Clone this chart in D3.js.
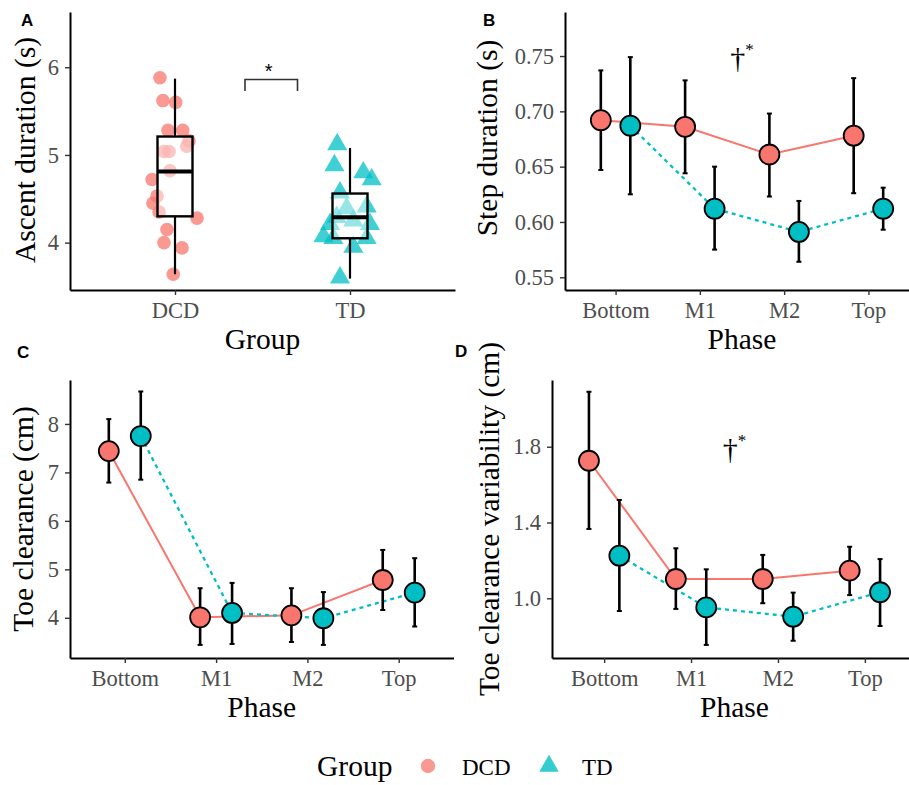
<!DOCTYPE html>
<html>
<head>
<meta charset="utf-8">
<script src="https://cdn.jsdelivr.net/npm/d3@7"></script>
<style>
  body { margin: 0; background: #fff; }
  svg text { font-family: "Liberation Serif", "Times New Roman", serif; }
  svg text.sans { font-family: "Liberation Sans", Arial, sans-serif; }
</style>
</head>
<body>
<div id="d3-container"></div>
<script>
/* CONSTANTS AND GLOBALS */
const width = 909,
  height = 785,
  red = "#F8766D",
  teal = "#00BFC4";

/* DATA */
const groups = ["DCD", "TD"];
const phases = ["Bottom", "M1", "M2", "Top"];

// A: ascent duration (s), one value per child, jitter in category units
const ascentDCD = [5.88, 5.62, 5.60, 5.28, 5.28, 5.16, 5.10, 5.04, 5.04, 4.82, 4.72, 4.53, 4.45, 4.35, 4.28, 4.15, 4.00, 3.94, 3.64];
const jitterDCD = [-0.086, -0.069, 0.004, -0.040, 0.044, 0.080, 0.067, -0.063, -0.034, -0.029, -0.131, -0.103, -0.126, -0.091, 0.126, -0.046, -0.063, 0.040, -0.010];
const ascentTD = [5.12, 4.88, 4.80, 4.72, 4.57, 4.41, 4.39, 4.29, 4.25, 4.21, 4.21, 4.07, 4.05, 4.05, 3.95, 3.60];
const jitterTD = [-0.073, -0.089, 0.076, 0.124, -0.057, 0.095, -0.019, -0.076, 0.019, -0.114, 0.114, -0.152, -0.095, 0.095, 0.019, -0.057];
const boxQ1 = [4.30, 4.05];
const boxMedian = [4.81, 4.29];
const boxQ3 = [5.21, 4.56];
const whiskerLow = [3.64, 3.59];
const whiskerHigh = [5.87, 5.08];

// B: step duration (s)
const stepMeanDCD = [0.692, 0.686, 0.661, 0.678];
const stepLowDCD = [0.647, 0.644, 0.623, 0.626];
const stepHighDCD = [0.737, 0.728, 0.698, 0.730];
const stepMeanTD = [0.687, 0.612, 0.591, 0.612];
const stepLowTD = [0.625, 0.575, 0.564, 0.593];
const stepHighTD = [0.749, 0.650, 0.619, 0.631];

// C: toe clearance (cm)
const toeMeanDCD = [7.44, 4.01, 4.05, 4.78];
const toeLowDCD = [6.79, 3.44, 3.50, 4.16];
const toeHighDCD = [8.10, 4.61, 4.61, 5.40];
const toeMeanTD = [7.75, 4.10, 3.99, 4.52];
const toeLowTD = [6.85, 3.46, 3.44, 3.82];
const toeHighTD = [8.67, 4.72, 4.53, 5.23];

// D: toe clearance variability (cm)
const varMeanDCD = [1.726, 1.102, 1.102, 1.146];
const varLowDCD = [1.366, 0.944, 0.974, 1.017];
const varHighDCD = [2.090, 1.264, 1.229, 1.272];
const varMeanTD = [1.225, 0.952, 0.903, 1.032];
const varLowTD = [0.933, 0.754, 0.776, 0.854];
const varHighTD = [1.519, 1.153, 1.030, 1.207];

/* SVG */
const svg = d3.select("#d3-container")
  .append("svg")
  .attr("width", width)
  .attr("height", height)
  .style("background", "#fff");

// ggplot-ish axis look
function styleAxis(sel) {
  sel.attr("font-family", null).attr("font-size", 22.5);
  sel.select(".domain").attr("stroke", "#000").attr("stroke-width", 2);
  sel.selectAll(".tick line").attr("stroke", "#333").attr("stroke-width", 1.4);
  sel.selectAll(".tick text").attr("fill", "#4D4D4D");
}

function yTitle(x, y, label) {
  svg.append("text")
    .attr("transform", `translate(${x},${y}) rotate(-90)`)
    .attr("text-anchor", "middle")
    .attr("font-size", 29.5)
    .attr("fill", "#000")
    .text(label);
}

function xTitle(x, y, label) {
  svg.append("text")
    .attr("x", x)
    .attr("y", y)
    .attr("text-anchor", "middle")
    .attr("font-size", 29.5)
    .attr("fill", "#000")
    .text(label);
}

function panelLetter(x, y, letter) {
  svg.append("text")
    .attr("class", "sans")
    .attr("x", x)
    .attr("y", y)
    .attr("font-weight", "bold")
    .attr("font-size", 17)
    .text(letter);
}

/* PANEL A: BOXPLOT + JITTER */
function drawAscent() {
  const left = 70, right = 455, top = 12, bottom = 290;
  const x = d3.scaleLinear().domain([0.4, 2.6]).range([left, right]);
  const y = d3.scaleLinear().domain([3.46, 6.63]).range([bottom, top]);

  svg.append("g")
    .attr("transform", `translate(0,${bottom})`)
    .call(d3.axisBottom(x).tickValues([1, 2]).tickFormat(i => groups[i - 1])
      .tickSize(5).tickSizeOuter(0).tickPadding(7))
    .call(styleAxis);
  svg.append("g")
    .attr("transform", `translate(${left},0)`)
    .call(d3.axisLeft(y).tickValues([4, 5, 6]).tickFormat(d3.format("d"))
      .tickSize(5).tickSizeOuter(0).tickPadding(6))
    .call(styleAxis);

  // jittered points
  svg.append("g").selectAll("circle")
    .data(ascentDCD.map((v, i) => ({ v, j: jitterDCD[i] })))
    .join("circle")
    .attr("cx", d => x(1 + d.j))
    .attr("cy", d => y(d.v))
    .attr("r", 6.8)
    .attr("fill", red)
    .attr("fill-opacity", 0.75);

  svg.append("g").selectAll("path")
    .data(ascentTD.map((v, i) => ({ v, j: jitterTD[i] })))
    .join("path")
    .attr("d", d3.symbol(d3.symbolTriangle, 175))
    .attr("transform", d => `translate(${x(2 + d.j)},${y(d.v)})`)
    .attr("fill", teal)
    .attr("fill-opacity", 0.75);

  // boxes
  const boxes = groups.map((g, i) => ({
    pos: i + 1, q1: boxQ1[i], med: boxMedian[i], q3: boxQ3[i], lo: whiskerLow[i], hi: whiskerHigh[i]
  }));
  const bg = svg.append("g").selectAll("g").data(boxes).join("g");
  bg.append("line")
    .attr("x1", d => x(d.pos)).attr("x2", d => x(d.pos))
    .attr("y1", d => y(d.hi)).attr("y2", d => y(d.q3))
    .attr("stroke", "#000").attr("stroke-width", 2.2);
  bg.append("line")
    .attr("x1", d => x(d.pos)).attr("x2", d => x(d.pos))
    .attr("y1", d => y(d.q1)).attr("y2", d => y(d.lo))
    .attr("stroke", "#000").attr("stroke-width", 2.2);
  bg.append("rect")
    .attr("x", d => x(d.pos - 0.1))
    .attr("width", d => x(d.pos + 0.1) - x(d.pos - 0.1))
    .attr("y", d => y(d.q3))
    .attr("height", d => y(d.q1) - y(d.q3))
    .attr("fill", "#fff").attr("fill-opacity", 0.45)
    .attr("stroke", "#000").attr("stroke-width", 2.4);
  bg.append("line")
    .attr("x1", d => x(d.pos - 0.1)).attr("x2", d => x(d.pos + 0.1))
    .attr("y1", d => y(d.med)).attr("y2", d => y(d.med))
    .attr("stroke", "#000").attr("stroke-width", 4);

  // significance bracket
  svg.append("path")
    .attr("d", d3.line()([[x(1.4), y(5.73)], [x(1.4), y(5.86)], [x(1.7), y(5.86)], [x(1.7), y(5.73)]]))
    .attr("fill", "none").attr("stroke", "#333").attr("stroke-width", 1.6);
  svg.append("text")
    .attr("class", "sans")
    .attr("x", x(1.535)).attr("y", y(5.98) + 9)
    .attr("text-anchor", "middle")
    .attr("font-size", 20)
    .text("*");

  yTitle(34.5, 150, "Ascent duration (s)");
  xTitle((left + right) / 2, 349, "Group");
}

/* PANELS B, C, D: MEAN + ERROR BAR BY PHASE */
function drawPhasePanel(o) {
  const x = d3.scaleLinear().domain([0.4, 4.6]).range([o.left, o.right]);
  const y = d3.scaleLinear().domain(o.yDomain).range([o.bottom, o.top]);

  svg.append("g")
    .attr("transform", `translate(0,${o.bottom})`)
    .call(d3.axisBottom(x).tickValues([1, 2, 3, 4]).tickFormat(i => phases[i - 1])
      .tickSize(5).tickSizeOuter(0).tickPadding(7))
    .call(styleAxis);
  svg.append("g")
    .attr("transform", `translate(${o.left},0)`)
    .call(d3.axisLeft(y).tickValues(o.yTicks).tickFormat(o.fmt)
      .tickSize(5).tickSizeOuter(0).tickPadding(6))
    .call(styleAxis);

  const series = [
    { mean: o.dcd[0], lo: o.dcd[1], hi: o.dcd[2], color: red, dodge: -0.175, dash: null, width: 2 },
    { mean: o.td[0], lo: o.td[1], hi: o.td[2], color: teal, dodge: 0.175, dash: "4,4", width: 2.3 }
  ];

  // lines
  series.forEach(s => {
    svg.append("path")
      .datum(s.mean)
      .attr("d", d3.line().x((d, i) => x(i + 1 + s.dodge)).y(d => y(d)))
      .attr("fill", "none")
      .attr("stroke", s.color)
      .attr("stroke-width", s.width)
      .attr("stroke-dasharray", s.dash);
  });

  // error bars
  series.forEach(s => {
    const eb = svg.append("g").selectAll("g")
      .data(s.mean.map((m, i) => ({ pos: i + 1 + s.dodge, lo: s.lo[i], hi: s.hi[i] })))
      .join("g")
      .attr("stroke", "#000");
    eb.append("line")
      .attr("x1", d => x(d.pos)).attr("x2", d => x(d.pos))
      .attr("y1", d => y(d.lo)).attr("y2", d => y(d.hi))
      .attr("stroke-width", 2.6);
    eb.append("line")
      .attr("x1", d => x(d.pos) - 2.5).attr("x2", d => x(d.pos) + 2.5)
      .attr("y1", d => y(d.lo)).attr("y2", d => y(d.lo))
      .attr("stroke-width", 2);
    eb.append("line")
      .attr("x1", d => x(d.pos) - 2.5).attr("x2", d => x(d.pos) + 2.5)
      .attr("y1", d => y(d.hi)).attr("y2", d => y(d.hi))
      .attr("stroke-width", 2);
  });

  // points
  series.forEach(s => {
    svg.append("g").selectAll("circle")
      .data(s.mean)
      .join("circle")
      .attr("cx", (d, i) => x(i + 1 + s.dodge))
      .attr("cy", d => y(d))
      .attr("r", 10)
      .attr("fill", s.color)
      .attr("stroke", "#000")
      .attr("stroke-width", 1.8);
  });

  // interaction annotation
  if (o.dagger) {
    const t = svg.append("text")
      .attr("x", x(2.5))
      .attr("y", y(o.dagger) + 10)
      .attr("text-anchor", "middle")
      .attr("fill", "#000");
    t.append("tspan").attr("font-size", 30).text("\u2020");
    t.append("tspan").attr("font-size", 17).attr("dy", -13).text("*");
  }

  yTitle(o.titleX, o.titleY, o.yLabel);
  xTitle((o.left + o.right) / 2, o.bottom + 59, "Phase");
}

drawAscent();

drawPhasePanel({
  left: 565, right: 919, top: 12, bottom: 290,
  yDomain: [0.5385, 0.7898], yTicks: [0.55, 0.60, 0.65, 0.70, 0.75], fmt: d3.format(".2f"),
  dcd: [stepMeanDCD, stepLowDCD, stepHighDCD],
  td: [stepMeanTD, stepLowTD, stepHighTD],
  dagger: 0.7485,
  yLabel: "Step duration (s)", titleX: 497, titleY: 138
});

drawPhasePanel({
  left: 70, right: 453.5, top: 380, bottom: 658,
  yDomain: [3.17, 8.907], yTicks: [4, 5, 6, 7, 8], fmt: d3.format("d"),
  dcd: [toeMeanDCD, toeLowDCD, toeHighDCD],
  td: [toeMeanTD, toeLowTD, toeHighTD],
  dagger: null,
  yLabel: "Toe clearance (cm)", titleX: 33, titleY: 519
});

drawPhasePanel({
  left: 552, right: 917, top: 380, bottom: 658,
  yDomain: [0.685, 2.152], yTicks: [1.0, 1.4, 1.8], fmt: d3.format(".1f"),
  dcd: [varMeanDCD, varLowDCD, varHighDCD],
  td: [varMeanTD, varLowTD, varHighTD],
  dagger: 1.79,
  yLabel: "Toe clearance variability (cm)", titleX: 499, titleY: 519
});

panelLetter(21, 26, "A");
panelLetter(483, 26, "B");
panelLetter(17, 358, "C");
panelLetter(455, 357, "D");

/* LEGEND */
const legend = svg.append("g");
legend.append("text")
  .attr("x", 317).attr("y", 776)
  .attr("font-size", 29.5)
  .text("Group");
legend.append("circle")
  .attr("cx", 428).attr("cy", 766).attr("r", 7.2)
  .attr("fill", red).attr("fill-opacity", 0.75);
legend.append("path")
  .attr("d", d3.symbol(d3.symbolTriangle, 165))
  .attr("transform", "translate(549,766)")
  .attr("fill", teal).attr("fill-opacity", 0.8);
legend.selectAll("text.lab")
  .data(groups)
  .join("text")
  .attr("class", "lab")
  .attr("x", (d, i) => [462, 582][i])
  .attr("y", 775)
  .attr("font-size", 23)
  .text(d => d);
</script>
</body>
</html>
